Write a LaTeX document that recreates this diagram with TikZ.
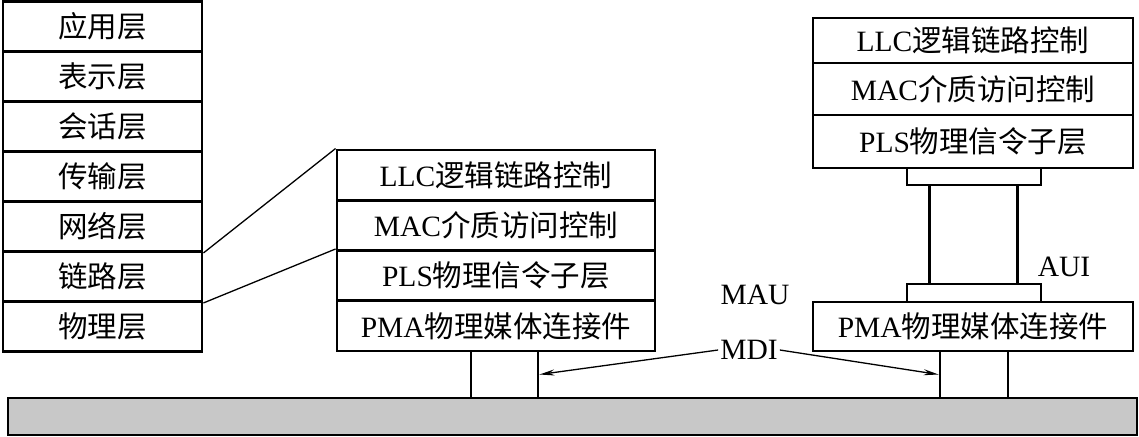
\documentclass[tikz,border=0pt]{standalone}
\usepackage{fontspec}
\setmainfont{Liberation Serif}
\newfontfamily\cjk{Noto Sans CJK SC}
\usetikzlibrary{arrows.meta}
\definecolor{busgray}{RGB}{200,200,200}
\begin{document}
\begin{tikzpicture}[x=1pt,y=-1pt,
  box/.style={draw, line width=2.9pt, inner sep=0pt, font=\fontsize{29.5}{29.5}\selectfont},
  thinline/.style={line width=1.3pt},
  lbl/.style={inner sep=2pt, font=\fontsize{29.5}{29.5}\selectfont},
  arr/.style={thinline, -{Stealth[length=15pt,width=6pt]}}]
\useasboundingbox (0,0) rectangle (1139,436);
% bus
\node[box, fill=busgray, minimum width=1129pt, minimum height=37pt] (bus) at (572.5,416.5) {};
% left OSI stack
\node[box, minimum width=199pt, minimum height=50pt] (app)  at (102.5,26.5)  {\cjk 应用层};
\node[box, minimum width=199pt, minimum height=50pt] (pres) at (102.5,76.5)  {\cjk 表示层};
\node[box, minimum width=199pt, minimum height=50pt] (sess) at (102.5,126.5) {\cjk 会话层};
\node[box, minimum width=199pt, minimum height=50pt] (trans) at (102.5,176.5) {\cjk 传输层};
\node[box, minimum width=199pt, minimum height=50pt] (net)  at (102.5,226.5) {\cjk 网络层};
\node[box, minimum width=199pt, minimum height=50pt] (link) at (102.5,276.5) {\cjk 链路层};
\node[box, minimum width=199pt, minimum height=50pt] (phys) at (102.5,326.5) {\cjk 物理层};
% middle stack
\node[box, minimum width=318pt, minimum height=50.25pt] (llc1) at (496,175.1) {LLC{\cjk 逻辑链路控制}};
\node[box, minimum width=318pt, minimum height=50.25pt] (mac1) at (496,225.4) {MAC{\cjk 介质访问控制}};
\node[box, minimum width=318pt, minimum height=50.25pt] (pls1) at (496,275.6) {PLS{\cjk 物理信令子层}};
\node[box, minimum width=318pt, minimum height=50.25pt] (pma1) at (496,325.9) {PMA{\cjk 物理媒体连接件}};
\node[box, minimum width=67pt, minimum height=47pt] (midconn) at (504.5,374.5) {};
% right stack
\node[box, minimum width=320pt, minimum height=45pt] (llc2) at (973,40.5) {LLC{\cjk 逻辑链路控制}};
\node[box, minimum width=320pt, minimum height=52pt] (mac2) at (973,89) {MAC{\cjk 介质访问控制}};
\node[box, minimum width=320pt, minimum height=53pt] (pls2) at (973,141.5) {PLS{\cjk 物理信令子层}};
\node[box, minimum width=134pt, minimum height=17pt] (aui1) at (974,176.5) {};
\node[box, minimum width=134pt, minimum height=18pt] (aui2) at (974,293) {};
\node[box, minimum width=320pt, minimum height=49pt] (pma2) at (973,326.5) {PMA{\cjk 物理媒体连接件}};
\node[box, minimum width=68pt, minimum height=47pt] (rconn) at (974,374.5) {};
% AUI cable
\draw[line width=2.9pt] ([xshift=24pt]aui1.south west) -- ([xshift=24pt]aui2.north west);
\draw[line width=2.9pt] ([xshift=-25pt]aui1.south east) -- ([xshift=-25pt]aui2.north east);
% labels
\node[lbl] (aui) at (1064,267) {AUI};
\node[lbl] (mau) at (755,295) {MAU};
\node[lbl] (mdi) at (749,350) {MDI};
% connectors
\draw[thinline] (net.south east) -- (llc1.north west);
\draw[thinline] (link.south east) -- ([yshift=3pt]mac1.south west);
\draw[arr] (mdi.west) -- (midconn.east);
\draw[arr] (mdi.east) -- (rconn.west);
\end{tikzpicture}
\end{document}
